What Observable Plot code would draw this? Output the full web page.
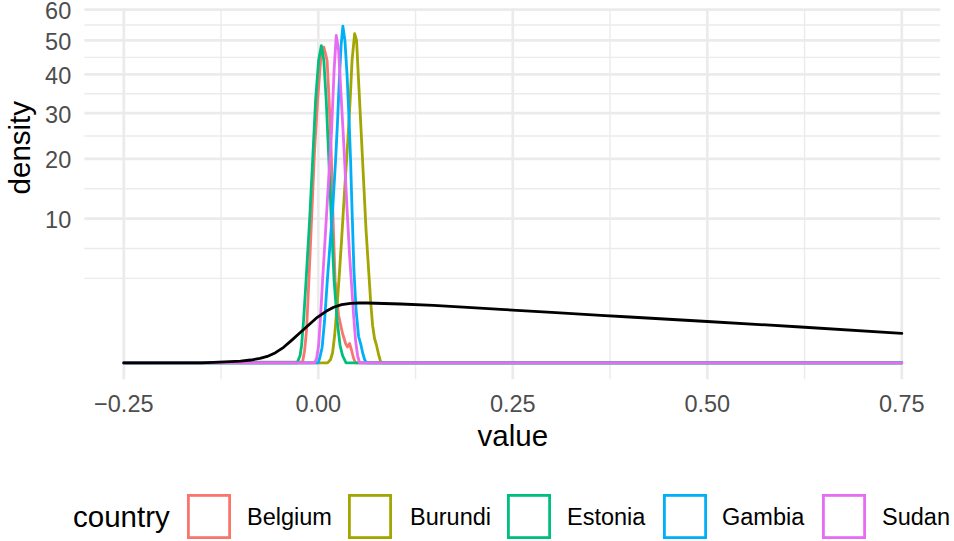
<!DOCTYPE html>
<html><head><meta charset="utf-8">
<script src="https://cdn.jsdelivr.net/npm/d3@7"></script>
<script src="https://cdn.jsdelivr.net/npm/@observablehq/plot@0.6"></script>
<style>
html,body{margin:0;padding:0;background:#fff;}
#wrap{position:relative;width:954px;height:541px;overflow:hidden;font-family:"Liberation Sans",Arial,Helvetica,sans-serif;}
#legend{position:absolute;left:0;top:494px;width:954px;height:46px;}
#legend .title{position:absolute;left:73px;top:0;line-height:46px;font-size:29.5px;color:#000;white-space:nowrap;}
#legend svg.key{position:absolute;top:0;width:46px;height:46px;display:block;}
#legend .lab{position:absolute;top:0;line-height:46px;font-size:23.5px;color:#000;white-space:nowrap;}
</style></head>
<body><div id="wrap"><div id="chart"></div><div id="legend"></div></div>
<script>
// ---- data ----
const countries = ["Belgium", "Burundi", "Estonia", "Gambia", "Sudan"];
const colors = ["#F8766D", "#A3A500", "#00BF7D", "#00B0F6", "#E76BF3"];

const belgiumValue = [-0.25, -0.0202, -0.0176, -0.0151, -0.0121, -0.0087, -0.0048, -0.0009, 0.0030, 0.0072, 0.0113, 0.0139, 0.0165, 0.0190, 0.0216, 0.0261, 0.0312, 0.0351, 0.0374, 0.0402, 0.0428, 0.0454, 0.0479, 0.75];
const belgiumDensity = [0, 0.0004, 0.074, 0.505, 3.27, 9.75, 21.70, 33.1, 44.0, 47.9, 44.0, 33.1, 21.70, 9.75, 3.27, 1.08, 0.416, 0.181, 0.122, 0.181, 0.074, 0.0093, 0, 0];

const burundiValue = [-0.25, 0.0120, 0.0158, 0.0184, 0.0210, 0.0242, 0.0265, 0.0299, 0.0338, 0.0380, 0.0409, 0.0434, 0.0467, 0.0492, 0.0522, 0.0550, 0.0582, 0.0614, 0.0647, 0.0672, 0.0698, 0.0723, 0.0749, 0.0775, 0.0801, 0.0827, 0.75];
const burundiDensity = [0, 0, 0.0056, 0.052, 0.361, 1.585, 3.27, 7.21, 14.29, 23.79, 33.11, 43.98, 52.09, 49.99, 36.48, 25.97, 16.0, 8.43, 4.11, 1.873, 0.673, 0.286, 0.146, 0.034, 0.0009, 0, 0];

const estoniaValue = [-0.25, -0.0272, -0.0234, -0.0215, -0.0189, -0.0157, -0.0112, -0.0073, -0.0035, 0.0004, 0.0039, 0.0071, 0.0102, 0.0136, 0.0168, 0.0203, 0.0242, 0.0280, 0.0312, 0.0357, 0.75];
const estoniaDensity = [0, 0, 0.026, 0.146, 0.865, 3.27, 9.75, 19.7, 33.1, 44.0, 48.4, 44.0, 33.1, 19.7, 9.75, 3.27, 0.865, 0.146, 0.026, 0, 0];

const gambiaValue = [-0.25, -0.0003, 0.0017, 0.0049, 0.0081, 0.0116, 0.0145, 0.0184, 0.0222, 0.0248, 0.0267, 0.0293, 0.0316, 0.0342, 0.0370, 0.0396, 0.0415, 0.0434, 0.0458, 0.0486, 0.0518, 0.0550, 0.0569, 0.0595, 0.0621, 0.75];
const gambiaDensity = [0, 0, 0.0093, 0.114, 0.865, 3.27, 6.08, 11.17, 19.70, 28.26, 37.01, 48.45, 54.52, 49.99, 39.72, 28.26, 19.70, 11.17, 4.11, 1.32, 0.335, 0.146, 0.052, 0.0056, 0, 0];

const sudanValue = [-0.25, -0.0048, -0.0022, 0.0004, 0.0030, 0.0055, 0.0094, 0.0132, 0.0171, 0.0203, 0.0231, 0.0261, 0.0287, 0.0325, 0.0364, 0.0402, 0.0428, 0.0454, 0.0479, 0.0505, 0.0531, 0.75];
const sudanDensity = [0, 0, 0.0093, 0.146, 1.08, 3.27, 8.43, 16.0, 25.97, 41.12, 51.55, 46.93, 36.48, 23.79, 12.68, 5.55, 2.88, 1.08, 0.241, 0.026, 0, 0];

const priorValue = [-0.25, -0.15, -0.12, -0.10, -0.087, -0.075, -0.0656, -0.055, -0.0446, -0.034, -0.0228, -0.012, -0.0013, 0.010, 0.0197, 0.030, 0.0415, 0.052, 0.063, 0.1058, 0.148, 0.1915, 0.2344, 0.30, 0.363, 0.40, 0.50, 0.62, 0.75];
const priorDensity = [0, 0, 0.0005, 0.0015, 0.004, 0.010, 0.020, 0.050, 0.117, 0.25, 0.453, 0.70, 1.0, 1.28, 1.49, 1.63, 1.705, 1.725, 1.726, 1.668, 1.585, 1.481, 1.376, 1.226, 1.090, 1.013, 0.824, 0.620, 0.421];

const xTicks = [-0.25, 0, 0.25, 0.5, 0.75];
const yTicks = [10, 20, 30, 40, 50, 60];

// ---- build table ----
const series = {
  Belgium: [belgiumValue, belgiumDensity],
  Burundi: [burundiValue, burundiDensity],
  Estonia: [estoniaValue, estoniaDensity],
  Gambia: [gambiaValue, gambiaDensity],
  Sudan: [sudanValue, sudanDensity]
};
const rows = [];
for (const c of countries) {
  const [vs, ds] = series[c];
  vs.forEach((v, i) => rows.push({country: c, value: v, density: ds[i]}));
}
const prior = priorValue.map((v, i) => ({value: v, density: priorDensity[i]}));

// grid positions (ggplot-style minor breaks: midpoints in transformed space)
const xMinor = xTicks.slice(1).map((t, i) => (t + xTicks[i]) / 2);
const s = yTicks.map(Math.sqrt);
const step = s[1] - s[0];
const sExt = [s[0] - step, ...s];
const yMinor = [sExt[0] ** 2, ...sExt.slice(1).map((t, i) => ((t + sExt[i]) / 2) ** 2)];

const W = 954, H = 480;
const chart = Plot.plot({
  width: W, height: H,
  marginLeft: 84.4, marginRight: 13.8, marginTop: 8.5, marginBottom: 100.7,
  style: {fontFamily: '"Liberation Sans", Arial, Helvetica, sans-serif', fontSize: "23.5px", color: "#4D4D4D", background: "white", overflow: "visible"},
  x: {domain: [-0.3, 0.8]},
  y: {type: "sqrt", domain: [0, 60.2], range: [362.4, 8.5]},
  color: {domain: countries, range: colors},
  marks: [
    Plot.gridX(xMinor, {stroke: "#EBEBEB", strokeOpacity: 1, strokeWidth: 1.4}),
    Plot.gridY(yMinor, {stroke: "#EBEBEB", strokeOpacity: 1, strokeWidth: 1.4}),
    Plot.gridX(xTicks, {stroke: "#EBEBEB", strokeOpacity: 1, strokeWidth: 2.7}),
    Plot.gridY(yTicks, {stroke: "#EBEBEB", strokeOpacity: 1, strokeWidth: 2.7}),
    Plot.axisX(xTicks, {tickSize: 0, tickPadding: 15.7, tickFormat: d3.format(".2f"), label: null, fontSize: 23.5}),
    Plot.axisY(yTicks, {tickSize: 0, tickPadding: 13.7, label: null, fontSize: 23.5, dy: 2}),
    Plot.line(rows, {x: "value", y: "density", z: "country", stroke: "country", strokeWidth: 2.8, strokeLinejoin: "round"}),
    Plot.line(prior, {x: "value", y: "density", stroke: "black", strokeWidth: 2.8, strokeLinejoin: "round"}),
    Plot.text(["value"], {frameAnchor: "bottom", lineAnchor: "middle", dy: 56.7, fontSize: 29.5, fill: "black", text: d => d}),
    Plot.text(["density"], {frameAnchor: "left", lineAnchor: "middle", dx: -64.5, rotate: -90, fontSize: 29.5, fill: "black", text: d => d})
  ]
});
document.getElementById("chart").appendChild(chart);

// ---- legend ----
const keyLeft = [186, 347, 506, 662, 821];
const labLeft = [247, 410, 567, 722, 882];
const leg = document.getElementById("legend");
const t = document.createElement("span");
t.className = "title"; t.textContent = "country";
leg.appendChild(t);
countries.forEach((c, i) => {
  const svg = document.createElementNS("http://www.w3.org/2000/svg", "svg");
  svg.setAttribute("class", "key");
  svg.setAttribute("viewBox", "0 0 46 46");
  svg.style.left = keyLeft[i] + "px";
  const r = document.createElementNS("http://www.w3.org/2000/svg", "rect");
  r.setAttribute("x", 2.4); r.setAttribute("y", 1.4);
  r.setAttribute("width", 41.2); r.setAttribute("height", 42.2);
  r.setAttribute("fill", "none"); r.setAttribute("stroke", colors[i]); r.setAttribute("stroke-width", 2.8);
  svg.appendChild(r);
  leg.appendChild(svg);
  const l = document.createElement("span");
  l.className = "lab"; l.textContent = c;
  l.style.left = labLeft[i] + "px";
  leg.appendChild(l);
});
</script></body></html>
